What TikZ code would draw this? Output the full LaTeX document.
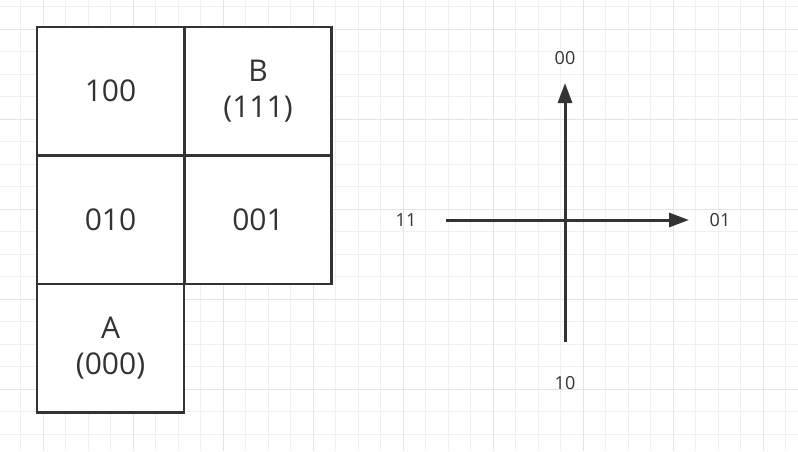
\documentclass[tikz,border=0pt]{standalone}
\usepackage{fontspec}
\setmainfont{Open Sans}
\usetikzlibrary{arrows.meta}
\definecolor{ink}{HTML}{333333}
\definecolor{gminor}{HTML}{F0F0F0}
\definecolor{gmajor}{HTML}{E4E4E4}
\begin{document}
\begin{tikzpicture}[x=1pt,y=-1pt,
  cell/.style={draw=ink,fill=white,line width=2.5pt,minimum width=147pt,minimum height=128.5pt,inner sep=0pt,align=center,text=ink,font=\fontsize{30}{36}\selectfont},
  lab/.style={text=ink,inner sep=0pt,font=\fontsize{18}{22}\selectfont},
  axis/.style={draw=ink,line width=3pt,-{Triangle[length=20pt,width=14pt]}},
  gmin/.style={draw=gminor,line width=1pt},
  gmaj/.style={draw=gmajor,line width=1pt}]
\useasboundingbox (0,0) rectangle (798,451);
\fill[white] (0,0) rectangle (798,451);
% grid
\foreach \i in {0,...,35} {\draw[gmin] ({20.5+22.5*\i},0) -- ({20.5+22.5*\i},451);}
\foreach \i in {0,...,20} {\draw[gmin] (0,{6.5+22.5*\i}) -- (798,{6.5+22.5*\i});}
\foreach \i in {0,...,8} {\draw[gmaj] ({43+90*\i},0) -- ({43+90*\i},451);}
\foreach \i in {0,...,4} {\draw[gmaj] (0,{29+90*\i}) -- (798,{29+90*\i});}
% cells
\node[cell] (c100) at (110.5,91) {100};
\node[cell] (cB) at (258,91) {B\\(111)};
\node[cell] (c010) at (110.5,219.5) {010};
\node[cell] (c001) at (258,219.5) {001};
\node[cell] (cA) at (110.5,348) {A\\(000)};
% axes
\coordinate (o) at (565,220);
\coordinate (up) at (565,83);
\coordinate (down) at (565,342);
\coordinate (left) at (446,220);
\coordinate (right) at (689,220);
\draw[axis] (down) -- (up);
\draw[axis] (left) -- (right);
\node[lab] (l00) at (565,58) {00};
\node[lab] (l10) at (565,383) {10};
\node[lab] (l11) at (406,220) {11};
\node[lab] (l01) at (720,220) {01};
\end{tikzpicture}
\end{document}
